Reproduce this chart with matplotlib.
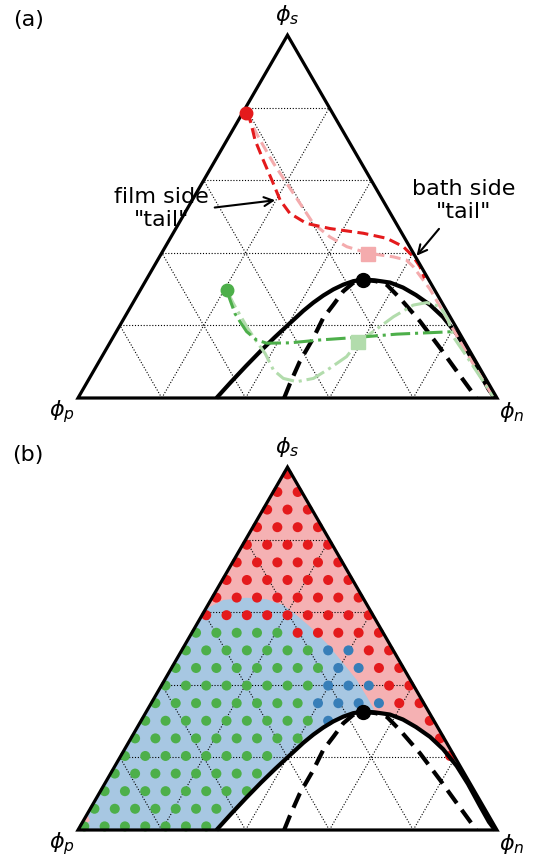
import numpy as np
import matplotlib
matplotlib.use("Agg")
import matplotlib.pyplot as plt
from matplotlib.patches import Polygon

# ---- colours -------------------------------------------------------------
RED = "#e41a1c"
GREEN = "#4daf4a"
BLUE = "#377eb8"
PINK_LINE = "#f4abad"
LGREEN_LINE = "#b2dcac"
PINK_BG = "#f5b1b3"
BLUE_BG = "#a7c7e2"

# ---- phase diagram (phi_n, phi_s) ------------------------------------------
binodal_n = [0.3305, 0.3431, 0.3569, 0.3715, 0.3856, 0.4000, 0.4176, 0.4302,
             0.4442, 0.4597, 0.4770, 0.4960, 0.5177, 0.5467, 0.5855, 0.6235,
             0.6649, 0.7118, 0.7596, 0.8157, 0.8675, 0.9264, 0.9699, 0.9952]
binodal_s = [0.0000, 0.0441, 0.0882, 0.1306, 0.1667, 0.2000, 0.2402, 0.2628,
             0.2824, 0.2992, 0.3124, 0.3220, 0.3264, 0.3242, 0.3182, 0.3044,
             0.2837, 0.2567, 0.2231, 0.1763, 0.1267, 0.0661, 0.0220, 0.0000]

spinodal_n = [0.492, 0.486, 0.479, 0.479, 0.475, 0.481, 0.486, 0.498, 0.518,
              0.550, 0.581, 0.631, 0.711, 0.795, 0.867, 0.944, 0.950]
spinodal_s = [0.000, 0.040, 0.101, 0.165, 0.220, 0.257, 0.294, 0.317, 0.326,
              0.322, 0.312, 0.275, 0.211, 0.138, 0.074, 0.006, 0.000]

critical_point = (0.5177, 0.3264)

# ---- panel (a): composition paths -----------------------------------------
film_red_n = [0.008, 0.028, 0.067, 0.114, 0.162, 0.210, 0.251, 0.305, 0.368,
              0.454, 0.517, 0.568, 0.606, 0.635, 0.662]
film_red_s = [0.785, 0.766, 0.711, 0.656, 0.601, 0.545, 0.509, 0.481, 0.467,
              0.454, 0.440, 0.417, 0.389, 0.362, 0.330]

bath_red_n = [0.008, 0.079, 0.143, 0.203, 0.262, 0.321, 0.379, 0.433, 0.493,
              0.558, 0.594, 0.619, 0.690, 0.790, 0.890, 0.960, 0.990]
bath_red_s = [0.785, 0.711, 0.647, 0.591, 0.536, 0.481, 0.444, 0.417, 0.399,
              0.389, 0.380, 0.362, 0.300, 0.200, 0.100, 0.032, 0.002]

film_green_n = [0.206, 0.228, 0.258, 0.282, 0.311, 0.346, 0.375, 0.430, 0.498,
                0.582, 0.673, 0.750, 0.807]
film_green_s = [0.2975, 0.270, 0.233, 0.210, 0.183, 0.160, 0.151, 0.152, 0.160,
                0.167, 0.176, 0.180, 0.183]

bath_green_n = [0.206, 0.240, 0.272, 0.305, 0.349, 0.385, 0.428, 0.463, 0.500,
                0.535, 0.560, 0.584, 0.591, 0.613, 0.641, 0.672, 0.701, 0.738,
                0.776, 0.811, 0.871, 0.930, 0.989]
bath_green_s = [0.2975, 0.261, 0.229, 0.196, 0.155, 0.123, 0.077, 0.054, 0.045,
                0.054, 0.082, 0.114, 0.154, 0.183, 0.224, 0.256, 0.263, 0.252,
                0.215, 0.169, 0.114, 0.059, 0.004]

red_start = (0.008, 0.785)
red_end = (0.494, 0.397)
green_start = (0.206, 0.2975)
green_end = (0.591, 0.154)

# ---- panel (b): region map ------------------------------------------------
# boundary between the two shaded regions, from the phi_p-phi_s edge inwards
region_n = [0.000, 0.030, 0.083, 0.132, 0.180, 0.226, 0.274, 0.337, 0.404,
            0.459, 0.506, 0.537, 0.560]
region_s = [0.609, 0.634, 0.640, 0.636, 0.620, 0.592, 0.560, 0.514, 0.459,
            0.413, 0.367, 0.336, 0.300]
corner_n = [0.000, 0.000, 0.016]
corner_s = [0.0055, 0.044, 0.025]

# sampled compositions: one string per row, from phi_s high to low
# R = red, G = green, B = blue, . = no sample
dot_rows = [
    "R",
    "RR",
    "RRR",
    "RRRR",
    "RRRRR",
    "RRRRRR",
    "RRRRRRR",
    "RRRRRRRR",
    "RRRRRRRRR",
    "GGGGGRRRRR",
    "GGGGGGGBBRR",
    "GGGGGGGGBBRR",
    "GGGGGGGGBBBRR",
    "GGGGGGGGBBBBRR",
    "GGGGGGGGGB....R",
    "GGGGGGGGG......R",
    "GGGGGGGG........R",
    "GGGGGGGG..........",
    "GGGGGGGG...........",
    "GGGGGGG.............",
    "GGGGGGG..............",
]
DOT_EPS = 0.01
DOT_COLOURS = {"R": RED, "G": GREEN, "B": BLUE}

GRID_LEVELS = [0.2, 0.4, 0.6, 0.8]


def tern(n, s):
    n = np.asarray(n, dtype=float)
    s = np.asarray(s, dtype=float)
    return n + s / 2.0, s * np.sqrt(3) / 2.0


def draw_grid(ax):
    for c in GRID_LEVELS:
        segs = [((0, c), (1 - c, c)),       # phi_s = c
                ((c, 0), (c, 1 - c)),       # phi_n = c
                ((1 - c, 0), (0, 1 - c))]   # phi_p = c
        for (n0, s0), (n1, s1) in segs:
            x, y = tern([n0, n1], [s0, s1])
            ax.plot(x, y, color="k", lw=0.8, ls=(0, (1, 1.6)), zorder=2)


def draw_frame(ax):
    x, y = tern([0, 1, 0], [0, 0, 1])
    ax.add_patch(Polygon(np.column_stack([x, y]), closed=True, fill=False,
                         ec="k", lw=2.3, joinstyle="miter", zorder=6))


def draw_phase_lines(ax):
    x, y = tern(binodal_n, binodal_s)
    ax.plot(x, y, color="k", lw=3.0, zorder=4, solid_capstyle="butt",
            solid_joinstyle="round")
    x, y = tern(spinodal_n, spinodal_s)
    ax.plot(x, y, color="k", lw=3.0, ls=(0, (3.8, 2.0)), zorder=4,
            dash_capstyle="butt")
    cx, cy = tern(*critical_point)
    ax.plot(cx, cy, "o", color="k", ms=10, zorder=8)


def vertex_labels(ax):
    ax.text(0.5, 0.913, r"$\phi_s$", ha="center", va="center", fontsize=16)
    ax.text(-0.038, -0.033, r"$\phi_p$", ha="center", va="center", fontsize=16)
    ax.text(1.036, -0.033, r"$\phi_n$", ha="center", va="center", fontsize=16)


fig = plt.figure(figsize=(5.43, 8.65), dpi=100)
ax_a = fig.add_axes([0, 0.5, 1, 0.5])
ax_b = fig.add_axes([0, 0, 1, 0.5])
ax_a.set_xlim(-78 / 419, 465 / 419)
ax_a.set_ylim((398 - 432.5) / 419, 398 / 419)
ax_b.set_xlim(-78 / 419, 465 / 419)
ax_b.set_ylim((830 - 865) / 419, (830 - 432.5) / 419)
for ax in (ax_a, ax_b):
    ax.axis("off")

# ---------------------------- panel (a) -----------------------------------
draw_grid(ax_a)
draw_phase_lines(ax_a)

x, y = tern(bath_red_n, bath_red_s)
ax_a.plot(x, y, color=PINK_LINE, lw=2.2, ls=(0, (3.6, 1.8)), zorder=5)
x, y = tern(bath_green_n, bath_green_s)
ax_a.plot(x, y, color=LGREEN_LINE, lw=2.2, ls="-.", zorder=5)
x, y = tern(film_red_n, film_red_s)
ax_a.plot(x, y, color=RED, lw=2.2, ls=(0, (3.6, 1.8)), zorder=5.5)
x, y = tern(film_green_n, film_green_s)
ax_a.plot(x, y, color=GREEN, lw=2.2, ls="-.", zorder=5.5)

ax_a.plot(*tern(*red_start), "o", color=RED, ms=9, zorder=8)
ax_a.plot(*tern(*red_end), "s", color=PINK_LINE, ms=9.5, zorder=8)
ax_a.plot(*tern(*green_start), "o", color=GREEN, ms=9, zorder=8)
ax_a.plot(*tern(*green_end), "s", color=LGREEN_LINE, ms=9.5, zorder=8)

draw_frame(ax_a)
vertex_labels(ax_a)
ax_a.text(-0.119, 0.902, "(a)", ha="center", va="center", fontsize=16)

film_tip = tern(0.198, 0.545)
ax_a.annotate("film side\n\"tail\"", xy=film_tip, xytext=(0.2, 0.453),
              ha="center", va="center", fontsize=16, zorder=9,
              arrowprops=dict(arrowstyle="->", color="k", lw=1.5,
                              relpos=(1.0, 0.5), shrinkA=2, shrinkB=0))
bath_tip = tern(0.612, 0.392)
ax_a.annotate("bath side\n\"tail\"", xy=bath_tip, xytext=(0.92, 0.472),
              ha="center", va="center", fontsize=16, zorder=9,
              arrowprops=dict(arrowstyle="->", color="k", lw=1.5,
                              relpos=(0.32, 0.0), shrinkA=4, shrinkB=0))

# ---------------------------- panel (b) -----------------------------------
tri_x, tri_y = tern([0, 1, 0], [0, 0, 1])
ax_b.add_patch(Polygon(np.column_stack([tri_x, tri_y]), closed=True,
                       fc=PINK_BG, ec="none", zorder=0))

# lower-left region: left edge -> boundary -> left arm of the binodal -> base
left_arm = [i for i, n in enumerate(binodal_n) if n <= critical_point[0]][::-1]
bn = [0.0] + region_n + [binodal_n[i] for i in left_arm] + [0.0]
bs = [0.0] + region_s + [binodal_s[i] for i in left_arm] + [0.0]
bx, by = tern(bn, bs)
ax_b.add_patch(Polygon(np.column_stack([bx, by]), closed=True,
                       fc=BLUE_BG, ec="none", zorder=0.5))
cx_, cy_ = tern(corner_n, corner_s)
ax_b.add_patch(Polygon(np.column_stack([cx_, cy_]), closed=True,
                       fc=PINK_BG, ec="none", zorder=0.6))

# two-phase region left blank
wx, wy = tern(binodal_n + [binodal_n[0]], binodal_s + [0.0])
ax_b.add_patch(Polygon(np.column_stack([wx, wy]), closed=True,
                       fc="white", ec="none", zorder=1))

draw_grid(ax_b)

nrows = len(dot_rows) - 1
pts_n, pts_s, cols = [], [], []
for r, row in enumerate(dot_rows):
    s = DOT_EPS + (1 - 3 * DOT_EPS) * (nrows - r) / nrows
    for k, c in enumerate(row):
        if c == ".":
            continue
        pts_n.append(DOT_EPS + (1 - 3 * DOT_EPS) * k / nrows)
        pts_s.append(s)
        cols.append(DOT_COLOURS[c])
px, py = tern(pts_n, pts_s)
ax_b.scatter(px, py, s=52, c=cols, linewidths=0, zorder=3)

draw_phase_lines(ax_b)
draw_frame(ax_b)
vertex_labels(ax_b)
ax_b.text(-0.119, 0.895, "(b)", ha="center", va="center", fontsize=16)

fig.savefig("out.png", dpi=100)
